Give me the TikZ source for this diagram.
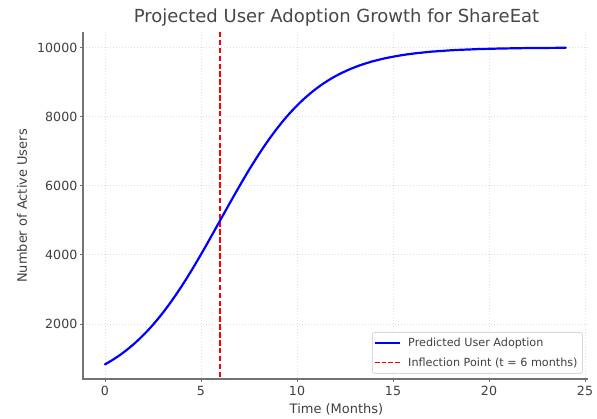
\documentclass[tikz,border=0pt]{standalone}
\usepackage{fontspec}
\setmainfont{DejaVu Sans}
\begin{document}
\begin{tikzpicture}[x=1pt,y=-1pt,
  spine/.style={draw=black!55, line width=1.1pt},
  gridline/.style={draw=black!12, line width=0.8pt, dash pattern=on 1.2pt off 1.8pt},
  tickmark/.style={draw=black!55, line width=0.9pt},
  ticklabel/.style={text=black!75, font=\fontsize{12.6}{14}\selectfont, inner sep=0pt},
  axislabel/.style={text=black!75, font=\fontsize{13}{15}\selectfont, inner sep=0pt},
  legendtext/.style={text=black!75, font=\fontsize{11.2}{13}\selectfont, inner sep=0pt, anchor=west},
  adoption/.style={draw={rgb,255:red,0;green,0;blue,255}, line width=2.2pt, line cap=round},
  inflection/.style={draw={rgb,255:red,255;green,0;blue,0}, line width=1.5pt, dash pattern=on 5.5pt off 2.4pt}
]
\useasboundingbox[fill=white] (0,0) rectangle (597,419);

% axes frame corners
\coordinate (ll) at (83,379);
\coordinate (ul) at (83,32);
\coordinate (lr) at (588,379);

% vertical grid lines and x ticks (t = 0,5,...,25)
\foreach \t in {0,5,10,15,20,25} {
  \pgfmathsetmacro{\px}{105+19.2*\t}
  \draw[gridline] (\px,32) -- (\px,379);
  \draw[tickmark] (\px,379) -- (\px,382.5);
  \node[ticklabel] (xt\t) at (\px,391) {\t};
}
% horizontal grid lines and y ticks (2000 ... 10000)
\foreach \v in {2000,4000,6000,8000,10000} {
  \pgfmathsetmacro{\py}{47.5+0.03456*(10000-\v)}
  \draw[gridline] (83,\py) -- (588,\py);
  \draw[tickmark] (83,\py) -- (79.5,\py);
  \node[ticklabel, anchor=east] (yt\v) at (77.5,\py) {\v};
}

% spines
\draw[spine] (ul) -- (ll) -- (lr);

% inflection point at t = 6
\coordinate (inftop) at (220.2,32);
\coordinate (infbot) at (220.2,379);
\draw[inflection] (inftop) -- (infbot);

% logistic adoption curve, K = 10000, r = 0.4, t0 = 6
\draw[adoption] plot[domain=0:24, samples=121, smooth]
  ({105+19.2*\x},{47.5+345.6*(1-1/(1+exp(-0.4*(\x-6))))});

% labels and title
\node[text=black!72, font=\fontsize{18}{21}\selectfont, inner sep=0pt] (title) at (336.5,17.5) {Projected User Adoption Growth for ShareEat};
\node[axislabel] (xlabel) at (336.5,409.5) {Time (Months)};
\node[axislabel, rotate=90] (ylabel) at (22,206) {Number of Active Users};

% legend
\node[draw=black!15, fill=white, fill opacity=0.85, rounded corners=2pt, line width=0.8pt,
      minimum width=210pt, minimum height=41pt, inner sep=0pt, anchor=north west] (legend) at (372,332) {};
\coordinate (la1) at (375,343);
\coordinate (lb1) at (400,343);
\coordinate (la2) at (375,362.5);
\coordinate (lb2) at (400,362.5);
\draw[adoption, line cap=butt, line width=2pt] (la1) -- (lb1);
\draw[inflection, dash pattern=on 4.5pt off 2.2pt] (la2) -- (lb2);
\node[legendtext] (lt1) at (408,343) {Predicted User Adoption};
\node[legendtext] (lt2) at (408,362.5) {Inflection Point (t = 6 months)};
\end{tikzpicture}
\end{document}
